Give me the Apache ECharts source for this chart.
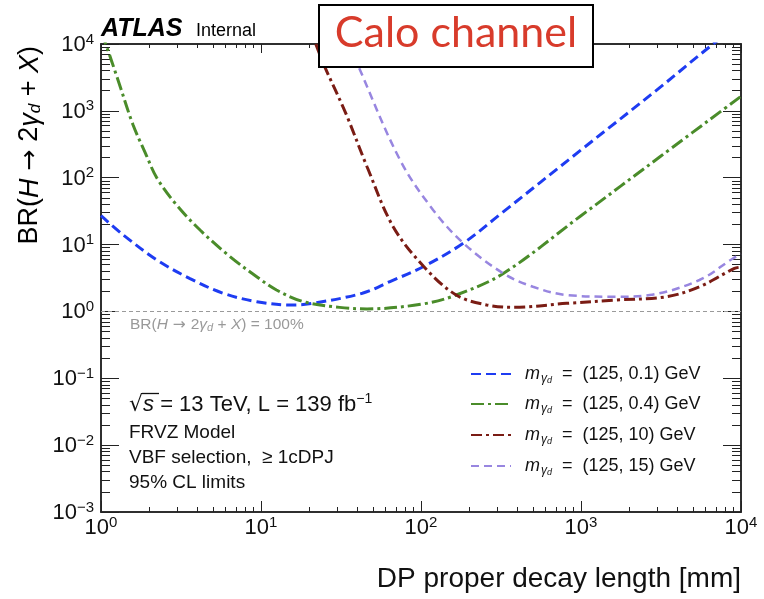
<!DOCTYPE html>
<html><head><meta charset="utf-8">
<script src="https://cdn.jsdelivr.net/npm/echarts@6/dist/echarts.min.js"></script>
<style>html,body{margin:0;padding:0;background:#fff}#c{width:764px;height:599px}</style>
</head><body><div id="c"></div>
<script>
// ---- data ----
const seriesNames = ['m01', 'm04', 'm10', 'm15'];
const legendMass = ['0.1', '0.4', '10', '15'];

const blueX = [1, 1.38, 2.23, 3.6, 5.8, 9.4, 15.2, 20, 43, 64, 104, 184, 316, 1000, 3160, 6700, 10000];
const blueY = [27, 13.9, 5.9, 3.1, 1.87, 1.40, 1.25, 1.30, 1.87, 2.8, 4.7, 10.5, 29, 260, 2300, 10000, 20000];

const greenX = [1, 1.07, 1.277, 1.585, 1.9, 2.23, 2.97, 4.16, 6.4, 9.4, 12.5, 18.4, 31, 46, 104, 166, 327, 1000, 3160, 10000];
const greenY = [15000, 10000, 2900, 620, 230, 100, 39, 16.5, 6.6, 3.3, 2.09, 1.40, 1.15, 1.09, 1.3, 1.76, 3.7, 27, 211, 1650];

const redX = [22, 25, 34, 46, 67, 104, 166, 257, 380, 813, 1660, 3430, 5500, 9100, 10000];
const redY = [10000, 4600, 900, 146, 18.5, 4.7, 1.76, 1.25, 1.15, 1.32, 1.48, 1.66, 2.34, 4.4, 4.6];

const lavX = [35.7, 40.7, 74, 119, 184, 327, 501, 813, 1660, 2690, 5500, 8900, 10000];
const lavY = [10000, 4600, 184, 33, 10.5, 3.7, 2.34, 1.76, 1.66, 1.76, 2.95, 6.2, 7.2];

const xMajor = [1, 10, 100, 1000, 10000];
const yMajor = [0.001, 0.01, 0.1, 1, 10, 100, 1000, 10000];
const minorMult = [2, 3, 4, 5, 6, 7, 8, 9];
const brLine = 1;

// ---- helpers ----
function pairs(xs, ys) { return xs.map((x, i) => [x, ys[i]]); }
function minorTicks(majors) {
  const out = [];
  for (let i = 0; i < majors.length - 1; i++) minorMult.forEach(m => out.push(+(m * majors[i]).toPrecision(6)));
  return out;
}
const xMinor = minorTicks(xMajor);
const yMinor = minorTicks(yMajor);
const FONT = "'Liberation Sans', Arial, Helvetica, sans-serif";
const AX = '#222';

function expLabel(v) {
  const e = Math.round(Math.log10(v));
  return '{b|10}{s|' + (e < 0 ? '\u2212' + (-e) : e) + '}';
}
const expRich = {
  b: { fontSize: 22, fontFamily: FONT, color: '#111', verticalAlign: 'bottom', lineHeight: 24 },
  s: { fontSize: 15, fontFamily: FONT, color: '#111', verticalAlign: 'top', lineHeight: 15 }
};

function xAx(pos, len, ticks, labels) {
  return {
    type: 'log', logBase: 10, min: 1, max: 10000, position: pos, gridIndex: 0,
    axisLine: { show: true, onZero: false, lineStyle: { color: AX, width: 1.5 } },
    axisTick: { show: true, inside: true, length: len, customValues: ticks, lineStyle: { color: AX, width: 1 } },
    axisLabel: labels ? { show: true, customValues: xMajor, formatter: expLabel, rich: expRich, margin: 3 } : { show: false },
    splitLine: { show: false }, minorTick: { show: false }
  };
}
function yAx(pos, len, ticks, labels) {
  return {
    type: 'log', logBase: 10, min: 0.001, max: 10000, position: pos, gridIndex: 0,
    axisLine: { show: true, onZero: false, lineStyle: { color: AX, width: 1.5 } },
    axisTick: { show: true, inside: true, length: len, customValues: ticks, lineStyle: { color: AX, width: 1 } },
    axisLabel: labels ? { show: true, customValues: yMajor, formatter: expLabel, rich: expRich, margin: 7 } : { show: false },
    splitLine: { show: false }, minorTick: { show: false }
  };
}

const colors = ['#1e3cf2', '#4a8c2a', '#7a1c14', '#9886e0'];
const dashes = [[10, 5], [13, 4, 3, 4], [11, 4, 3, 4], [8, 5]];
const widths = [3, 3, 3, 2.5];
const dataSets = [pairs(blueX, blueY), pairs(greenX, greenY), pairs(redX, redY), pairs(lavX, lavY)];

const series = seriesNames.map((n, i) => ({
  name: n, type: 'line', xAxisIndex: 0, yAxisIndex: 0,
  data: dataSets[i], smooth: 0.35, symbol: 'none', clip: true,
  lineStyle: { color: colors[i], width: widths[i], type: dashes[i] },
  itemStyle: { color: colors[i] }, z: 3 + i
}));
series[0].markLine = {
  silent: true, symbol: 'none', animation: false,
  lineStyle: { color: '#9a9a9a', width: 1, type: [4, 3] },
  label: {
    show: true, position: 'insideStartBottom', distance: [29, 5],
    formatter: '{a|BR(}{i|H}{r| \u2192 }{a|2}{i|\u03b3}{d|d}{a| + }{i|X}{a|) = 100%}',
    rich: {
      a: { fontSize: 15.5, fontFamily: FONT, color: '#999' },
      r: { fontSize: 15.5, fontFamily: "'DejaVu Sans', sans-serif", color: '#999' },
      i: { fontSize: 15.5, fontFamily: FONT, color: '#999', fontStyle: 'italic' },
      d: { fontSize: 11, fontFamily: FONT, color: '#999', fontStyle: 'italic', padding: [6, 0, 0, 0] }
    }
  },
  data: [{ yAxis: brLine }]
};

const legendRich = {
  m: { fontSize: 18, fontFamily: FONT, color: '#111', fontStyle: 'italic' },
  g: { fontSize: 12, fontFamily: FONT, color: '#111', fontStyle: 'italic', padding: [9, 0, 0, 1] },
  d: { fontSize: 9, fontFamily: FONT, color: '#111', fontStyle: 'italic', padding: [13, 0, 0, 0] },
  t: { fontSize: 18, fontFamily: FONT, color: '#111' }
};
const legendTops = [365, 395, 426, 457];
const legends = seriesNames.map((n, i) => ({
  data: [n], orient: 'vertical', left: 470, top: legendTops[i], padding: 0,
  itemWidth: 40, itemHeight: 14, itemGap: 0,
  itemStyle: { opacity: 0, borderWidth: 0 },
  formatter: () => '{m|m}{g|\u03b3}{d|d}{t|  =  (125, ' + legendMass[i] + ') GeV}',
  textStyle: { rich: legendRich, padding: [0, 0, 0, 9] },
  selectedMode: false
}));

const txt = (x, y, text, extra) => Object.assign({
  type: 'text', x: x, y: y, z: 50,
  style: { text: text, rich: annRich, verticalAlign: 'middle', align: 'left', font: '19px ' + FONT, fill: '#111' }
}, extra || {});
const annRich = {
  n: { fontSize: 19, fontFamily: FONT, color: '#111' },
  L: { fontSize: 22, fontFamily: FONT, color: '#111' },
  i: { fontSize: 22, fontFamily: FONT, color: '#111', fontStyle: 'italic' },
  r: { fontSize: 22, fontFamily: "'DejaVu Sans', sans-serif", color: '#111' },
  sup: { fontSize: 14, fontFamily: FONT, color: '#111', padding: [0, 0, 11, 0] }
};

const option = {
  animation: false,
  backgroundColor: '#fff',
  grid: { left: 101, right: 23, top: 44, bottom: 87, containLabel: false },
  xAxis: [
    xAx('bottom', 11, xMajor, true), xAx('bottom', 5, xMinor, false),
    xAx('top', 9, xMajor, false), xAx('top', 4, xMinor, false)
  ],
  yAxis: [
    yAx('left', 18, yMajor, true), yAx('left', 9, yMinor, false),
    yAx('right', 18, yMajor, false), yAx('right', 9, yMinor, false)
  ],
  legend: legends,
  series: series,
  graphic: [
    { type: 'rect', z: 100, shape: { x: 319, y: 5, width: 274, height: 62 }, style: { fill: '#fff', stroke: '#000', lineWidth: 2 } },
    { type: 'text', z: 101, x: 456, y: 33, style: { text: 'Calo channel', font: "43px Lato, 'Noto Sans', sans-serif", fill: '#d83b2b', align: 'center', verticalAlign: 'middle' } },
    { type: 'text', z: 60, x: 101, y: 29, style: { text: 'ATLAS', font: 'italic bold 25px ' + FONT, fill: '#000', align: 'left', verticalAlign: 'middle' } },
    { type: 'text', z: 60, x: 196, y: 31, style: { text: 'Internal', font: '18px ' + FONT, fill: '#000', align: 'left', verticalAlign: 'middle' } },
    { type: 'text', z: 60, x: 741, y: 579, style: { text: 'DP proper decay length [mm]', font: '28px ' + FONT, fill: '#111', align: 'right', verticalAlign: 'middle' } },
    { type: 'text', z: 60, x: 30, y: 46, rotation: Math.PI / 2,
      style: { text: '{n|BR(}{i|H}{r| \u2192 }{n|2}{i|\u03b3}{d|d}{n| + }{i|X}{n|)}', align: 'right', verticalAlign: 'middle',
        rich: {
          n: { fontSize: 27, fontFamily: FONT, color: '#111' },
          r: { fontSize: 25, fontFamily: "'DejaVu Sans', sans-serif", color: '#111' },
          i: { fontSize: 27, fontFamily: FONT, color: '#111', fontStyle: 'italic' },
          d: { fontSize: 17, fontFamily: FONT, color: '#111', fontStyle: 'italic', padding: [10, 0, 0, 0] }
        } } },
    txt(129, 405, '{r|\u221a}{i|s}{L| = 13 TeV, L = 139 fb}{sup|\u22121}'),
    { type: 'line', z: 50, shape: { x1: 142, y1: 393.5, x2: 159, y2: 393.5 }, style: { stroke: '#111', lineWidth: 1.3 } },
    txt(129, 433, '{n|FRVZ Model}'),
    txt(129, 458, '{n|VBF selection,  \u2265 1cDPJ}'),
    txt(129, 483, '{n|95% CL limits}')
  ]
};
const chart = echarts.init(document.getElementById('c'), null, { renderer: 'canvas' });
chart.setOption(option);
</script>
</body></html>
